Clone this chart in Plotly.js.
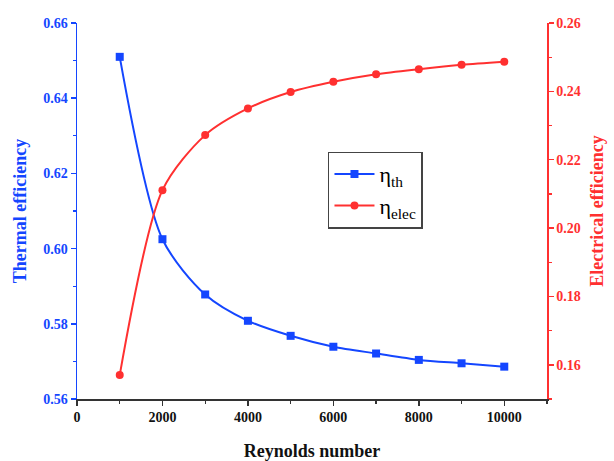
<!DOCTYPE html>
<html>
<head>
<meta charset="utf-8">
<script src="https://cdn.plot.ly/plotly-3.0.1.min.js"></script>
<style>html,body{margin:0;padding:0;background:#fff;}#chart{width:614px;height:461px;}</style>
</head>
<body>
<div id="chart"></div>
<script>
const reynolds = [1000, 2000, 3000, 4000, 5000, 6000, 7000, 8000, 9000, 10000];
const thermalEff = [0.6510, 0.6025, 0.5878, 0.5808, 0.5768, 0.5739, 0.5721, 0.5704, 0.5695, 0.5686];
const electricalEff = [0.1570, 0.2111, 0.2272, 0.2350, 0.2398, 0.2428, 0.2450, 0.2465, 0.2478, 0.2487];
const seriesNames = ['η<sub>th</sub>', 'η<sub>elec</sub>'];
const xTicks = [0, 2000, 4000, 6000, 8000, 10000];
const leftTicks = [0.56, 0.58, 0.60, 0.62, 0.64, 0.66];
const rightTicks = [0.16, 0.18, 0.20, 0.22, 0.24, 0.26];

const BLUE = '#1446ff';
const RED = '#ff3030';
const FONT = 'Liberation Serif';

const traces = [
  {
    x: reynolds, y: thermalEff, name: seriesNames[0], yaxis: 'y', type: 'scatter',
    mode: 'lines+markers', line: {color: BLUE, width: 2, shape: 'spline', smoothing: 0.8},
    marker: {symbol: 'square', size: 8, color: BLUE}
  },
  {
    x: reynolds, y: electricalEff, name: seriesNames[1], yaxis: 'y2', type: 'scatter',
    mode: 'lines+markers', line: {color: RED, width: 2, shape: 'spline', smoothing: 0.8},
    marker: {symbol: 'circle', size: 8, color: RED}
  }
];

const layout = {
  width: 614, height: 461,
  margin: {l: 77, r: 67, t: 23, b: 62},
  paper_bgcolor: '#fff', plot_bgcolor: '#fff',
  font: {family: FONT},
  showlegend: true,
  legend: {
    x: 0.534, y: 0.658, xanchor: 'left', yanchor: 'top',
    bgcolor: '#fff', bordercolor: '#444', borderwidth: 1.5,
    font: {family: FONT, size: 22, color: '#000'},
    tracegroupgap: 0, itemwidth: 40
  },
  xaxis: {
    range: [0, 11000], tickvals: xTicks, ticktext: xTicks.map(String),
    showgrid: false, zeroline: false, showline: true, linecolor: '#333', linewidth: 1.5,
    ticks: 'outside', ticklen: 5, tickwidth: 1.5, tickcolor: '#333',
    minor: {dtick: 1000, ticks: 'outside', ticklen: 3, tickwidth: 1.2, tickcolor: '#333'},
    tickfont: {family: FONT, size: 14, color: '#111', weight: 'bold'},
    title: {text: 'Reynolds number', font: {family: FONT, size: 18, color: '#111', weight: 'bold'}, standoff: 20}
  },
  xaxis2: {
    range: [0, 11000], overlaying: 'x', side: 'top', anchor: 'y',
    tickvals: xTicks, showticklabels: false,
    showgrid: false, zeroline: false, showline: true, linecolor: '#333', linewidth: 1.5,
    ticks: 'inside', ticklen: 5, tickwidth: 1.5, tickcolor: '#888'
  },
  yaxis: {
    range: [0.56, 0.66], tickvals: leftTicks, ticktext: leftTicks.map(v => v.toFixed(2)),
    showgrid: false, zeroline: false, showline: true, linecolor: BLUE, linewidth: 1.5,
    ticks: 'outside', ticklen: 5, tickwidth: 1.5, tickcolor: BLUE,
    minor: {dtick: 0.01, ticks: 'outside', ticklen: 3, tickwidth: 1.2, tickcolor: BLUE},
    tickfont: {family: FONT, size: 14, color: BLUE, weight: 'bold'},
    title: {text: 'Thermal efficiency', font: {family: FONT, size: 18, color: BLUE, weight: 'bold'}, standoff: 12}
  },
  yaxis2: {
    range: [0.15, 0.26], overlaying: 'y', side: 'right', anchor: 'x',
    tickvals: rightTicks, ticktext: rightTicks.map(v => v.toFixed(2)),
    showgrid: false, zeroline: false, showline: true, linecolor: RED, linewidth: 1.5,
    ticks: 'outside', ticklen: 5, tickwidth: 1.5, tickcolor: RED,
    minor: {dtick: 0.01, ticks: 'outside', ticklen: 3, tickwidth: 1.2, tickcolor: RED},
    tickfont: {family: FONT, size: 14, color: RED, weight: 'bold'},
    title: {text: 'Electrical efficiency', font: {family: FONT, size: 18, color: RED, weight: 'bold'}, standoff: 10}
  }
};

Plotly.newPlot('chart', traces, layout, {displayModeBar: false, staticPlot: true});
</script>
</body>
</html>
